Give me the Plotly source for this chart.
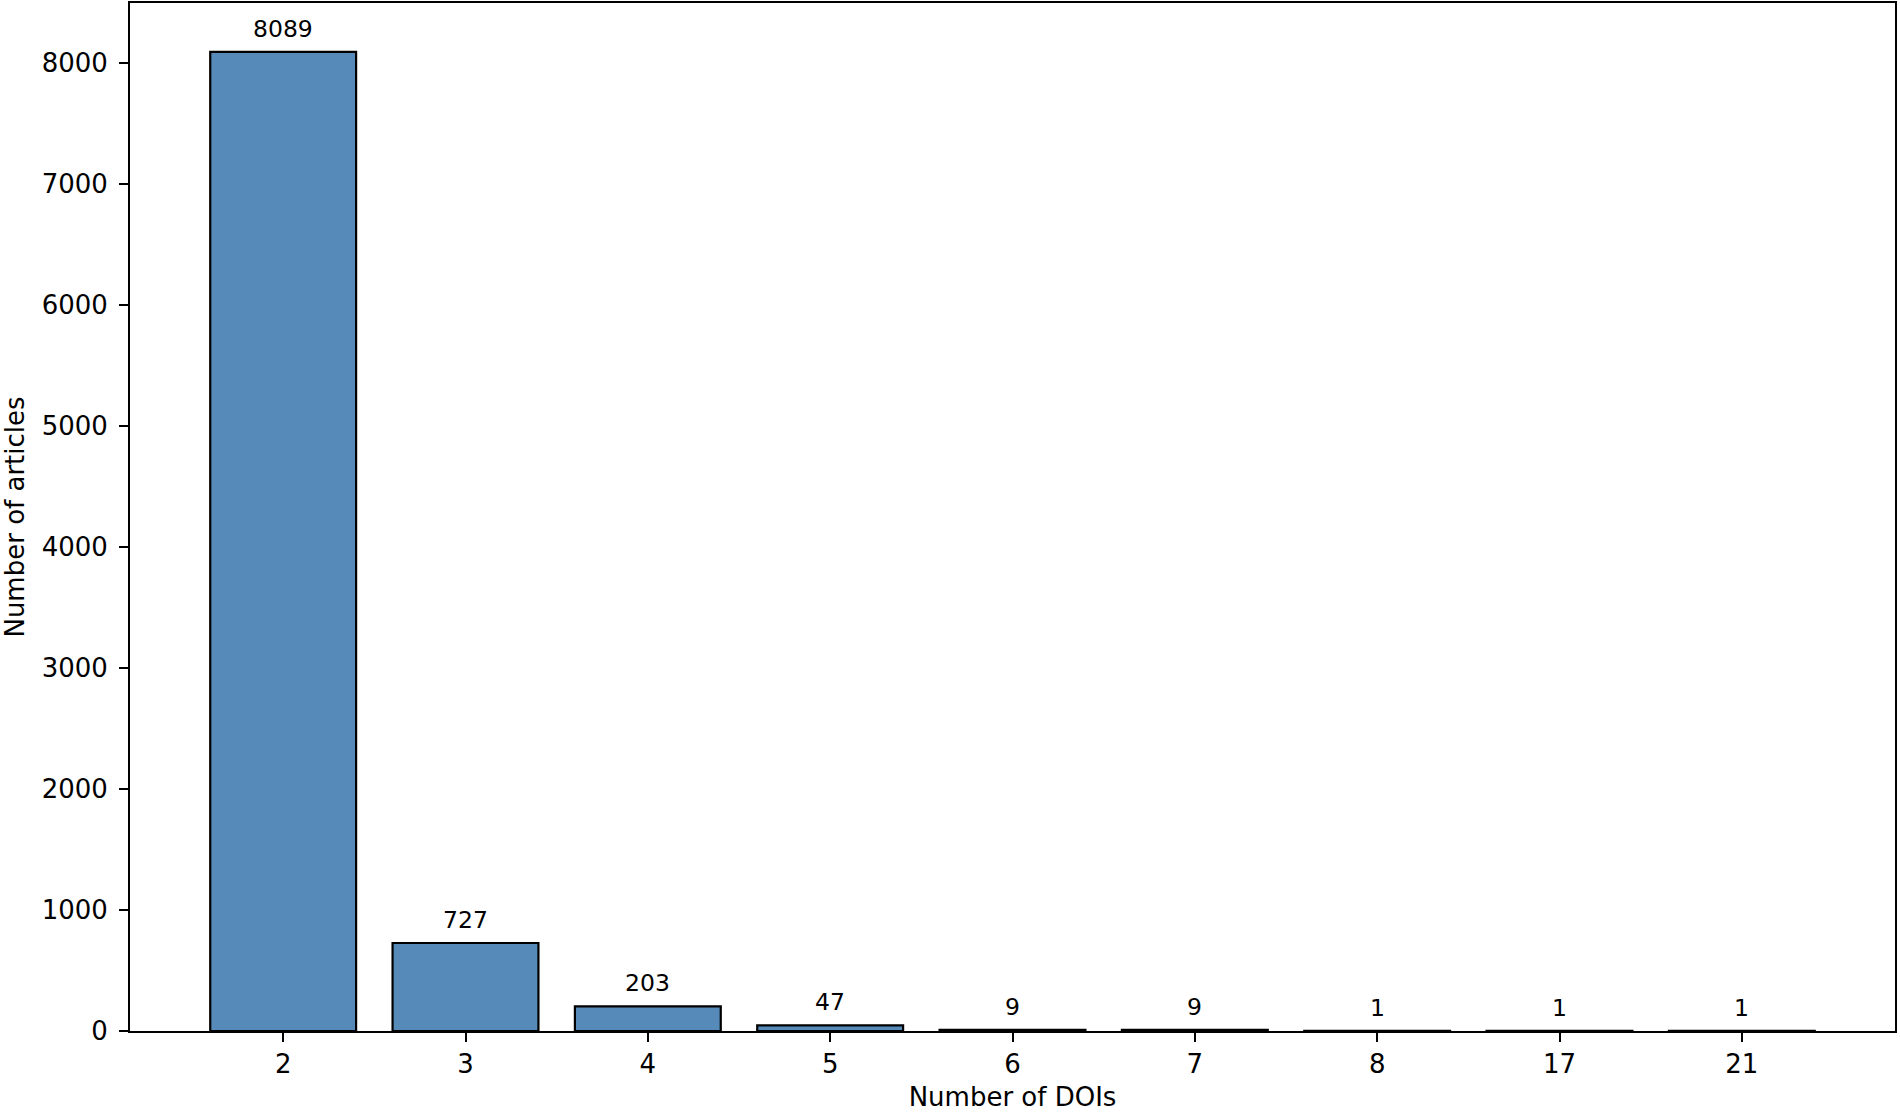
import plotly.graph_objects as go

categories = ["2", "3", "4", "5", "6", "7", "8", "17", "21"]
counts = [8089, 727, 203, 47, 9, 9, 1, 1, 1]
y_ticks = [0, 1000, 2000, 3000, 4000, 5000, 6000, 7000, 8000]

FONT = "DejaVu Sans"

fig = go.Figure()
fig.add_trace(go.Bar(
    x=categories,
    y=counts,
    width=0.8,
    marker=dict(color="rgb(86,138,185)", line=dict(color="black", width=2.2)),
    showlegend=False,
))

for i, v in enumerate(counts):
    fig.add_annotation(
        x=i, y=v, text=str(v), showarrow=False,
        yanchor="bottom", yshift=7,
        font=dict(family=FONT, size=23.5, color="black"),
    )

axis_common = dict(
    showline=True, linecolor="black", linewidth=2, mirror=True,
    ticks="outside", ticklen=9, tickwidth=2, tickcolor="black",
    showgrid=False, zeroline=False,
    tickfont=dict(family=FONT, size=26, color="black"),
)

fig.update_xaxes(
    type="category", range=[-0.84, 8.84],
    title=dict(text="Number of DOIs", font=dict(family=FONT, size=26, color="black"), standoff=21),
    **axis_common,
)
fig.update_yaxes(
    range=[0, 8493.5], tickvals=y_ticks, ticklabelstandoff=6,
    title=dict(text="Number of articles", font=dict(family=FONT, size=26, color="black"), standoff=10),
    **axis_common,
)

fig.update_layout(
    width=1900, height=1112,
    margin=dict(l=130, r=5, t=3, b=81, autoexpand=False),
    plot_bgcolor="white", paper_bgcolor="white",
    bargap=0.2,
    font=dict(family=FONT, color="black"),
)

fig.write_html(
    "out.html",
    config={"displayModeBar": False},
    post_script="document.body.style.margin='0';document.body.style.overflow='hidden';",
)
